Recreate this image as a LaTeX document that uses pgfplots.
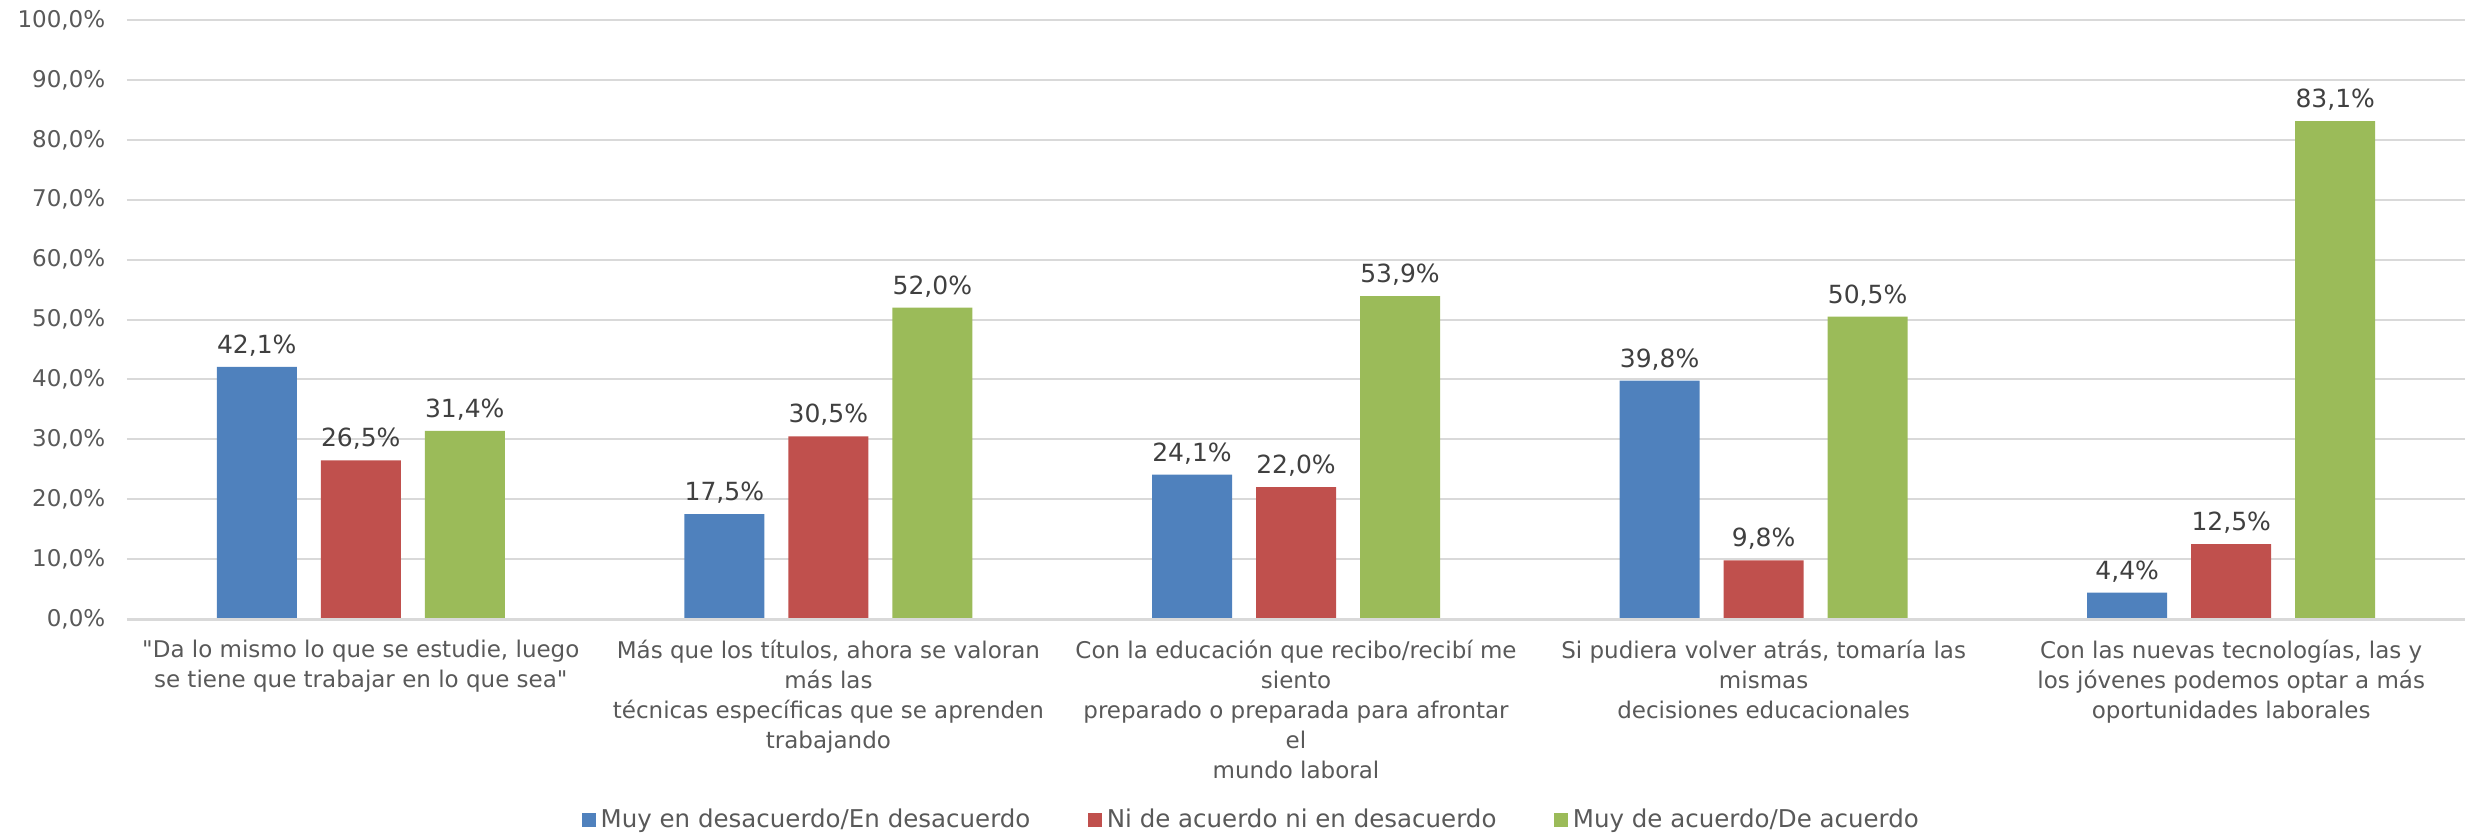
\documentclass[border=0pt]{standalone}
\usepackage{fontspec}
\setmainfont{DejaVu Sans}
\newfontfamily\qfont{DejaVu Sans}
\usepackage{pgfplots}
\pgfplotsset{compat=1.18}
\definecolor{cblue}{HTML}{4F81BD}
\definecolor{cred}{HTML}{C0504D}
\definecolor{cgreen}{HTML}{9BBB59}
\definecolor{cgrid}{HTML}{D9D9D9}
\definecolor{ctext}{HTML}{595959}
\definecolor{clab}{HTML}{404040}
\begin{document}
\fontsize{9}{12}\selectfont
\begin{tikzpicture}
\begin{axis}[
  name=ax,
  scale only axis,
  width=935.2pt, height=239.6pt,
  xmin=-0.5, xmax=4.5, ymin=0, ymax=100,
  axis line style={draw=none},
  tick style={draw=none},
  ymajorgrids, grid style={cgrid, line width=0.8pt},
  ytick={0,10,...,100},
  /pgf/number format/assume math mode=true,
  yticklabel={\pgfmathprintnumber[fixed,fixed zerofill,precision=1,use comma]{\tick}\%},
  yticklabel style={font=\fontsize{9.2}{12}\selectfont, text=ctext, xshift=-5.5pt},
  xtick={0,1,2,3,4},
  xticklabels={
    {{\qfont"}Da lo mismo lo que se estudie, luego\\se tiene que trabajar en lo que sea{\qfont"}},
    {Más que los títulos, ahora se valoran\\más las\\técnicas específicas que se aprenden\\trabajando},
    {Con la educación que recibo/recibí me\\siento\\preparado o preparada para afrontar\\el\\mundo laboral},
    {Si pudiera volver atrás, tomaría las\\mismas\\decisiones educacionales},
    {Con las nuevas tecnologías, las y\\los jóvenes podemos optar a más\\oportunidades laborales}},
  xticklabel style={font=\fontsize{9.2}{12}\selectfont, text=ctext, align=center, yshift=-1pt},
  ybar, bar width=32pt,
  nodes near coords={\pgfmathprintnumber[fixed,fixed zerofill,precision=1,use comma]{\pgfplotspointmeta}\%},
  every node near coord/.append style={font=\fontsize{10}{12}\selectfont, text=clab, yshift=1pt},
  legend style={at={(0.4815,-0.335)}, anchor=center, draw=none, fill=none, inner sep=0pt,
    legend columns=-1, font=\fontsize{9.8}{12}\selectfont, text=ctext,
    /tikz/every even column/.append style={column sep=21pt}},
  legend image code/.code={\fill[#1] (0pt,-2.8pt) rectangle (5.6pt,2.8pt);},
]
\addplot[draw=none, fill=cblue, bar shift=-41.6pt] coordinates {(0,42.1) (1,17.5) (2,24.1) (3,39.8) (4,4.4)};
\addplot[draw=none, fill=cred, bar shift=0pt] coordinates {(0,26.5) (1,30.5) (2,22.0) (3,9.8) (4,12.5)};
\addplot[draw=none, fill=cgreen, bar shift=41.6pt] coordinates {(0,31.4) (1,52.0) (2,53.9) (3,50.5) (4,83.1)};
\legend{Muy en desacuerdo/En desacuerdo, Ni de acuerdo ni en desacuerdo, Muy de acuerdo/De acuerdo}
\end{axis}
\draw[cgrid, line width=1.2pt] (ax.south west) -- (ax.south east);
\pgfresetboundingbox
\path ([shift={(-50.8pt,-85.6pt)}]ax.south west) rectangle ++(987.2pt,333.2pt);
\end{tikzpicture}
\end{document}
